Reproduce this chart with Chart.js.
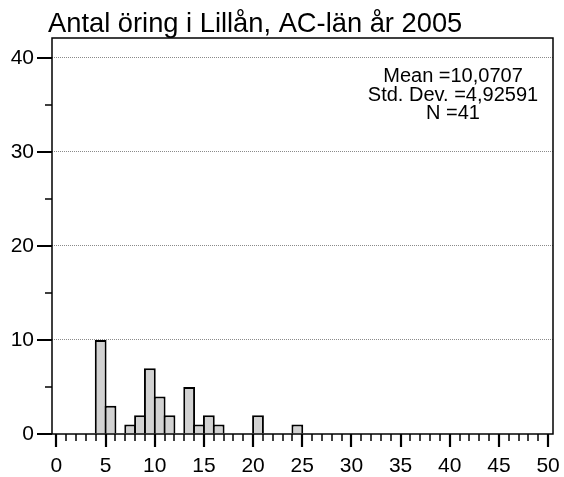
<!DOCTYPE html>
<html>
<head>
<meta charset="utf-8">
<script src="https://cdn.jsdelivr.net/npm/chart.js@4/dist/chart.umd.min.js"></script>
<style>
html,body{margin:0;padding:0;background:#fff;}
#wrap{width:564px;height:477px;position:relative;}
</style>
</head>
<body>
<div id="wrap"><canvas id="c" width="564" height="477"></canvas></div>
<script>
// Data
const chartTitle = "Antal öring i Lillån, AC-län år 2005";
const binCenters = [4.5, 5.5, 7.5, 8.5, 9.5, 10.5, 11.5, 13.5, 14.5, 15.5, 16.5, 20.5, 24.5];
const counts     = [10, 3, 1, 2, 7, 4, 2, 5, 1, 2, 1, 2, 1];
const xTicks = [0, 5, 10, 15, 20, 25, 30, 35, 40, 45, 50];
const yTicks = [0, 10, 20, 30, 40];
const statsLines = ["Mean =10,0707", "Std. Dev. =4,92591", "N =41"];

const FONT = "'Liberation Sans', Arial, sans-serif";

const framePlugin = {
  id: 'frame',
  afterDraw(chart) {
    const ctx = chart.ctx;
    const a = chart.chartArea;
    const xs = chart.scales.x, ys = chart.scales.y;
    ctx.save();
    ctx.strokeStyle = '#000';
    // box
    ctx.lineWidth = 1.5;
    ctx.strokeRect(a.left, a.top, a.right - a.left, a.bottom - a.top);
    // y major ticks
    ctx.lineWidth = 2;
    yTicks.forEach(v => {
      const y = Math.round(ys.getPixelForValue(v));
      ctx.beginPath(); ctx.moveTo(a.left - 15, y); ctx.lineTo(a.left, y); ctx.stroke();
    });
    // y minor ticks (midpoints between major ticks)
    ctx.lineWidth = 1.5;
    for (let i = 0; i < yTicks.length - 1; i++) {
      const v = (yTicks[i] + yTicks[i + 1]) / 2;
      const y = Math.round(ys.getPixelForValue(v));
      ctx.beginPath(); ctx.moveTo(a.left - 7, y); ctx.lineTo(a.left, y); ctx.stroke();
    }
    // x ticks: every unit minor, labelled ones major
    for (let v = xTicks[0]; v <= xTicks[xTicks.length - 1]; v++) {
      const x = Math.round(xs.getPixelForValue(v));
      const major = xTicks.includes(v);
      ctx.lineWidth = major ? 2.2 : 1.5;
      ctx.beginPath(); ctx.moveTo(x, a.bottom); ctx.lineTo(x, a.bottom + (major ? 13 : 7)); ctx.stroke();
    }
    // title
    ctx.fillStyle = '#000';
    ctx.font = '27.3px ' + FONT;
    ctx.textAlign = 'left';
    ctx.textBaseline = 'alphabetic';
    ctx.fillText(chartTitle, 48, 32);
    // stats
    ctx.font = '20px ' + FONT;
    ctx.textAlign = 'center';
    statsLines.forEach((t, i) => ctx.fillText(t, 453, 82 + i * 18.5));
    ctx.restore();
  }
};

new Chart(document.getElementById('c'), {
  type: 'bar',
  data: {
    datasets: [{
      data: binCenters.map((x, i) => ({ x: x, y: counts[i] })),
      backgroundColor: '#d2d2d2',
      borderColor: '#000',
      borderWidth: 2,
      borderSkipped: 'start',
      barPercentage: 1.2,
      categoryPercentage: 1
    }]
  },
  options: {
    responsive: false,
    animation: false,
    devicePixelRatio: 1,
    layout: { padding: { left: 0, right: 11, top: 38, bottom: 0 } },
    plugins: { legend: { display: false }, tooltip: { enabled: false }, title: { display: false } },
    scales: {
      x: {
        type: 'linear',
        offset: false,
        min: -0.45,
        max: 50.5,
        afterBuildTicks: s => { s.ticks = xTicks.map(v => ({ value: v })); },
        afterFit: s => { s.height = 43; s.paddingLeft = 0; s.paddingRight = 0; },
        grid: { display: false, drawTicks: false, offset: false },
        border: { display: false },
        ticks: { color: '#000', font: { family: FONT, size: 21 }, padding: 20, maxRotation: 0, autoSkip: false }
      },
      y: {
        min: 0,
        max: 42.1,
        afterBuildTicks: s => { s.ticks = yTicks.map(v => ({ value: v })); },
        afterFit: s => { s.width = 52; s.paddingTop = 0; s.paddingBottom = 0; },
        grid: {
          drawTicks: false,
          color: ctx => ctx.tick && ctx.tick.value === 0 ? 'rgba(0,0,0,0)' : '#8a8a8a',
          lineWidth: 1
        },
        border: { display: false, dash: [1, 1] },
        ticks: { color: '#000', font: { family: FONT, size: 21 }, padding: 18 }
      }
    }
  },
  plugins: [framePlugin]
});
</script>
</body>
</html>
